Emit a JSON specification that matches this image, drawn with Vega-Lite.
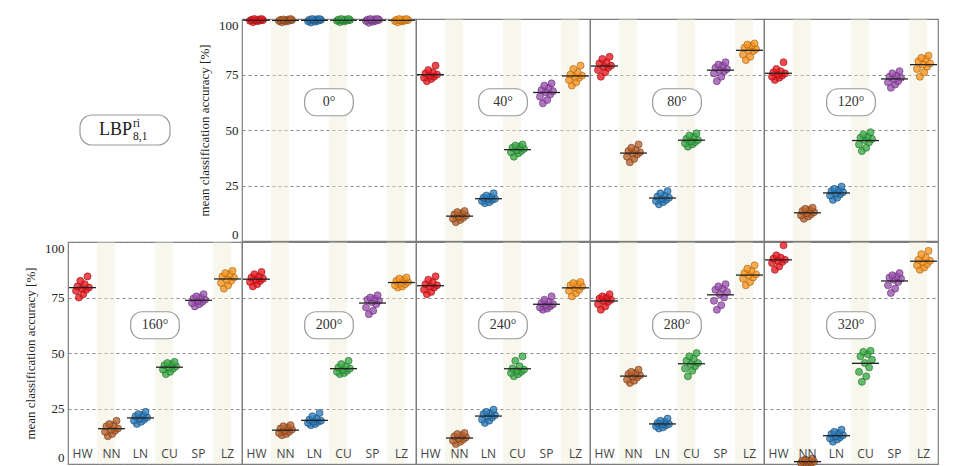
{
  "$schema": "https://vega.github.io/schema/vega-lite/v6.json",
  "padding": {"left": 23, "top": 13, "right": 5, "bottom": 0},
  "background": "white",
  "spacing": -4,
  "config": {
    "view": {"stroke": "#7d7d7d", "strokeWidth": 1.2},
    "axisY": {
      "grid": true, "gridDash": [3, 3], "gridColor": "#8a8a8a", "gridWidth": 1,
      "domain": false, "ticks": false,
      "labelFont": "Liberation Serif", "labelFontSize": 13, "labelColor": "#222",
      "labelFlush": true, "labelPadding": 4,
      "titleFont": "Liberation Serif", "titleFontSize": 13, "titleFontWeight": "normal",
      "titleColor": "#222", "titlePadding": 7
    },
    "axisX": {
      "grid": false, "domain": false, "ticks": false, "labelAngle": 0,
      "labelPadding": -16, "labelFont": "Open Sans", "labelFontSize": 12, "labelColor": "#444"
    }
  },
  "datasets": {
    "stripes": [{"cls": "NN"}, {"cls": "CU"}, {"cls": "LZ"}],
    "panels": [
      {"angle": 0, "label": "0°"}, {"angle": 40, "label": "40°"}, {"angle": 80, "label": "80°"},
      {"angle": 120, "label": "120°"}, {"angle": 160, "label": "160°"}, {"angle": 200, "label": "200°"},
      {"angle": 240, "label": "240°"}, {"angle": 280, "label": "280°"}, {"angle": 320, "label": "320°"}
    ],
    "acc": [
      {"angle":0,"cls":"HW","run":1,"acc":98.6},{"angle":0,"cls":"HW","run":2,"acc":99.0},{"angle":0,"cls":"HW","run":3,"acc":99.2},{"angle":0,"cls":"HW","run":4,"acc":99.3},{"angle":0,"cls":"HW","run":5,"acc":99.4},{"angle":0,"cls":"HW","run":6,"acc":99.5},{"angle":0,"cls":"HW","run":7,"acc":99.6},{"angle":0,"cls":"HW","run":8,"acc":99.8},{"angle":0,"cls":"HW","run":9,"acc":100},{"angle":0,"cls":"HW","run":10,"acc":100},
      {"angle":0,"cls":"NN","run":1,"acc":98.5},{"angle":0,"cls":"NN","run":2,"acc":98.9},{"angle":0,"cls":"NN","run":3,"acc":99.1},{"angle":0,"cls":"NN","run":4,"acc":99.2},{"angle":0,"cls":"NN","run":5,"acc":99.3},{"angle":0,"cls":"NN","run":6,"acc":99.5},{"angle":0,"cls":"NN","run":7,"acc":99.6},{"angle":0,"cls":"NN","run":8,"acc":99.7},{"angle":0,"cls":"NN","run":9,"acc":99.8},{"angle":0,"cls":"NN","run":10,"acc":100},
      {"angle":0,"cls":"LN","run":1,"acc":98.4},{"angle":0,"cls":"LN","run":2,"acc":98.8},{"angle":0,"cls":"LN","run":3,"acc":99.0},{"angle":0,"cls":"LN","run":4,"acc":99.2},{"angle":0,"cls":"LN","run":5,"acc":99.4},{"angle":0,"cls":"LN","run":6,"acc":99.6},{"angle":0,"cls":"LN","run":7,"acc":99.7},{"angle":0,"cls":"LN","run":8,"acc":99.9},{"angle":0,"cls":"LN","run":9,"acc":100},{"angle":0,"cls":"LN","run":10,"acc":100},
      {"angle":0,"cls":"CU","run":1,"acc":98.6},{"angle":0,"cls":"CU","run":2,"acc":98.9},{"angle":0,"cls":"CU","run":3,"acc":99.2},{"angle":0,"cls":"CU","run":4,"acc":99.3},{"angle":0,"cls":"CU","run":5,"acc":99.4},{"angle":0,"cls":"CU","run":6,"acc":99.5},{"angle":0,"cls":"CU","run":7,"acc":99.7},{"angle":0,"cls":"CU","run":8,"acc":99.8},{"angle":0,"cls":"CU","run":9,"acc":100},{"angle":0,"cls":"CU","run":10,"acc":100},
      {"angle":0,"cls":"SP","run":1,"acc":98.3},{"angle":0,"cls":"SP","run":2,"acc":98.8},{"angle":0,"cls":"SP","run":3,"acc":99.1},{"angle":0,"cls":"SP","run":4,"acc":99.2},{"angle":0,"cls":"SP","run":5,"acc":99.4},{"angle":0,"cls":"SP","run":6,"acc":99.6},{"angle":0,"cls":"SP","run":7,"acc":99.7},{"angle":0,"cls":"SP","run":8,"acc":99.9},{"angle":0,"cls":"SP","run":9,"acc":100},{"angle":0,"cls":"SP","run":10,"acc":100},
      {"angle":0,"cls":"LZ","run":1,"acc":98.5},{"angle":0,"cls":"LZ","run":2,"acc":98.9},{"angle":0,"cls":"LZ","run":3,"acc":99.1},{"angle":0,"cls":"LZ","run":4,"acc":99.3},{"angle":0,"cls":"LZ","run":5,"acc":99.4},{"angle":0,"cls":"LZ","run":6,"acc":99.5},{"angle":0,"cls":"LZ","run":7,"acc":99.6},{"angle":0,"cls":"LZ","run":8,"acc":99.8},{"angle":0,"cls":"LZ","run":9,"acc":100},{"angle":0,"cls":"LZ","run":10,"acc":100},

      {"angle":40,"cls":"HW","run":1,"acc":72},{"angle":40,"cls":"HW","run":2,"acc":73},{"angle":40,"cls":"HW","run":3,"acc":73.5},{"angle":40,"cls":"HW","run":4,"acc":74},{"angle":40,"cls":"HW","run":5,"acc":74.5},{"angle":40,"cls":"HW","run":6,"acc":75},{"angle":40,"cls":"HW","run":7,"acc":75.5},{"angle":40,"cls":"HW","run":8,"acc":76},{"angle":40,"cls":"HW","run":9,"acc":77},{"angle":40,"cls":"HW","run":10,"acc":79},
      {"angle":40,"cls":"NN","run":1,"acc":8.5},{"angle":40,"cls":"NN","run":2,"acc":9.5},{"angle":40,"cls":"NN","run":3,"acc":10},{"angle":40,"cls":"NN","run":4,"acc":10.5},{"angle":40,"cls":"NN","run":5,"acc":11},{"angle":40,"cls":"NN","run":6,"acc":11.5},{"angle":40,"cls":"NN","run":7,"acc":12},{"angle":40,"cls":"NN","run":8,"acc":12.5},{"angle":40,"cls":"NN","run":9,"acc":13},{"angle":40,"cls":"NN","run":10,"acc":13.5},
      {"angle":40,"cls":"LN","run":1,"acc":17},{"angle":40,"cls":"LN","run":2,"acc":17.5},{"angle":40,"cls":"LN","run":3,"acc":18},{"angle":40,"cls":"LN","run":4,"acc":18.5},{"angle":40,"cls":"LN","run":5,"acc":19},{"angle":40,"cls":"LN","run":6,"acc":19},{"angle":40,"cls":"LN","run":7,"acc":19.5},{"angle":40,"cls":"LN","run":8,"acc":20},{"angle":40,"cls":"LN","run":9,"acc":20.5},{"angle":40,"cls":"LN","run":10,"acc":21.5},
      {"angle":40,"cls":"CU","run":1,"acc":38},{"angle":40,"cls":"CU","run":2,"acc":39.5},{"angle":40,"cls":"CU","run":3,"acc":40},{"angle":40,"cls":"CU","run":4,"acc":40.5},{"angle":40,"cls":"CU","run":5,"acc":41},{"angle":40,"cls":"CU","run":6,"acc":41.5},{"angle":40,"cls":"CU","run":7,"acc":42},{"angle":40,"cls":"CU","run":8,"acc":42.5},{"angle":40,"cls":"CU","run":9,"acc":43},{"angle":40,"cls":"CU","run":10,"acc":43.5},
      {"angle":40,"cls":"SP","run":1,"acc":62},{"angle":40,"cls":"SP","run":2,"acc":63.5},{"angle":40,"cls":"SP","run":3,"acc":65},{"angle":40,"cls":"SP","run":4,"acc":66},{"angle":40,"cls":"SP","run":5,"acc":67},{"angle":40,"cls":"SP","run":6,"acc":67.5},{"angle":40,"cls":"SP","run":7,"acc":68},{"angle":40,"cls":"SP","run":8,"acc":69},{"angle":40,"cls":"SP","run":9,"acc":70},{"angle":40,"cls":"SP","run":10,"acc":71},
      {"angle":40,"cls":"LZ","run":1,"acc":70},{"angle":40,"cls":"LZ","run":2,"acc":71.5},{"angle":40,"cls":"LZ","run":3,"acc":72.5},{"angle":40,"cls":"LZ","run":4,"acc":73.5},{"angle":40,"cls":"LZ","run":5,"acc":74},{"angle":40,"cls":"LZ","run":6,"acc":74.5},{"angle":40,"cls":"LZ","run":7,"acc":75},{"angle":40,"cls":"LZ","run":8,"acc":76},{"angle":40,"cls":"LZ","run":9,"acc":77.5},{"angle":40,"cls":"LZ","run":10,"acc":79},

      {"angle":80,"cls":"HW","run":1,"acc":74},{"angle":80,"cls":"HW","run":2,"acc":76},{"angle":80,"cls":"HW","run":3,"acc":77},{"angle":80,"cls":"HW","run":4,"acc":78},{"angle":80,"cls":"HW","run":5,"acc":78.5},{"angle":80,"cls":"HW","run":6,"acc":79},{"angle":80,"cls":"HW","run":7,"acc":80},{"angle":80,"cls":"HW","run":8,"acc":80.5},{"angle":80,"cls":"HW","run":9,"acc":82},{"angle":80,"cls":"HW","run":10,"acc":83},
      {"angle":80,"cls":"NN","run":1,"acc":35.5},{"angle":80,"cls":"NN","run":2,"acc":37},{"angle":80,"cls":"NN","run":3,"acc":38},{"angle":80,"cls":"NN","run":4,"acc":39},{"angle":80,"cls":"NN","run":5,"acc":39.5},{"angle":80,"cls":"NN","run":6,"acc":40},{"angle":80,"cls":"NN","run":7,"acc":40.5},{"angle":80,"cls":"NN","run":8,"acc":41},{"angle":80,"cls":"NN","run":9,"acc":42},{"angle":80,"cls":"NN","run":10,"acc":43.5},
      {"angle":80,"cls":"LN","run":1,"acc":16.5},{"angle":80,"cls":"LN","run":2,"acc":17.5},{"angle":80,"cls":"LN","run":3,"acc":18},{"angle":80,"cls":"LN","run":4,"acc":18.5},{"angle":80,"cls":"LN","run":5,"acc":19},{"angle":80,"cls":"LN","run":6,"acc":19.5},{"angle":80,"cls":"LN","run":7,"acc":20},{"angle":80,"cls":"LN","run":8,"acc":20.5},{"angle":80,"cls":"LN","run":9,"acc":21.5},{"angle":80,"cls":"LN","run":10,"acc":22.5},
      {"angle":80,"cls":"CU","run":1,"acc":42.5},{"angle":80,"cls":"CU","run":2,"acc":43.5},{"angle":80,"cls":"CU","run":3,"acc":44},{"angle":80,"cls":"CU","run":4,"acc":44.5},{"angle":80,"cls":"CU","run":5,"acc":45},{"angle":80,"cls":"CU","run":6,"acc":45.5},{"angle":80,"cls":"CU","run":7,"acc":46},{"angle":80,"cls":"CU","run":8,"acc":47},{"angle":80,"cls":"CU","run":9,"acc":47.5},{"angle":80,"cls":"CU","run":10,"acc":48.5},
      {"angle":80,"cls":"SP","run":1,"acc":72},{"angle":80,"cls":"SP","run":2,"acc":74},{"angle":80,"cls":"SP","run":3,"acc":75.5},{"angle":80,"cls":"SP","run":4,"acc":76.5},{"angle":80,"cls":"SP","run":5,"acc":77},{"angle":80,"cls":"SP","run":6,"acc":77.5},{"angle":80,"cls":"SP","run":7,"acc":78},{"angle":80,"cls":"SP","run":8,"acc":79},{"angle":80,"cls":"SP","run":9,"acc":79.5},{"angle":80,"cls":"SP","run":10,"acc":80.5},
      {"angle":80,"cls":"LZ","run":1,"acc":81.5},{"angle":80,"cls":"LZ","run":2,"acc":83},{"angle":80,"cls":"LZ","run":3,"acc":84},{"angle":80,"cls":"LZ","run":4,"acc":85.5},{"angle":80,"cls":"LZ","run":5,"acc":86},{"angle":80,"cls":"LZ","run":6,"acc":86.5},{"angle":80,"cls":"LZ","run":7,"acc":87},{"angle":80,"cls":"LZ","run":8,"acc":88},{"angle":80,"cls":"LZ","run":9,"acc":88.5},{"angle":80,"cls":"LZ","run":10,"acc":89},

      {"angle":120,"cls":"HW","run":1,"acc":72.5},{"angle":120,"cls":"HW","run":2,"acc":73.5},{"angle":120,"cls":"HW","run":3,"acc":74},{"angle":120,"cls":"HW","run":4,"acc":74.5},{"angle":120,"cls":"HW","run":5,"acc":75},{"angle":120,"cls":"HW","run":6,"acc":75.5},{"angle":120,"cls":"HW","run":7,"acc":76},{"angle":120,"cls":"HW","run":8,"acc":76.5},{"angle":120,"cls":"HW","run":9,"acc":77.5},{"angle":120,"cls":"HW","run":10,"acc":80.5},
      {"angle":120,"cls":"NN","run":1,"acc":10},{"angle":120,"cls":"NN","run":2,"acc":11},{"angle":120,"cls":"NN","run":3,"acc":11.5},{"angle":120,"cls":"NN","run":4,"acc":12},{"angle":120,"cls":"NN","run":5,"acc":12.5},{"angle":120,"cls":"NN","run":6,"acc":13},{"angle":120,"cls":"NN","run":7,"acc":13.5},{"angle":120,"cls":"NN","run":8,"acc":14},{"angle":120,"cls":"NN","run":9,"acc":14.5},{"angle":120,"cls":"NN","run":10,"acc":15},
      {"angle":120,"cls":"LN","run":1,"acc":18.5},{"angle":120,"cls":"LN","run":2,"acc":19.5},{"angle":120,"cls":"LN","run":3,"acc":20.5},{"angle":120,"cls":"LN","run":4,"acc":21},{"angle":120,"cls":"LN","run":5,"acc":21.5},{"angle":120,"cls":"LN","run":6,"acc":22},{"angle":120,"cls":"LN","run":7,"acc":22.5},{"angle":120,"cls":"LN","run":8,"acc":23},{"angle":120,"cls":"LN","run":9,"acc":23.5},{"angle":120,"cls":"LN","run":10,"acc":24.5},
      {"angle":120,"cls":"CU","run":1,"acc":40.5},{"angle":120,"cls":"CU","run":2,"acc":42},{"angle":120,"cls":"CU","run":3,"acc":43.5},{"angle":120,"cls":"CU","run":4,"acc":44.5},{"angle":120,"cls":"CU","run":5,"acc":45.5},{"angle":120,"cls":"CU","run":6,"acc":46},{"angle":120,"cls":"CU","run":7,"acc":46.5},{"angle":120,"cls":"CU","run":8,"acc":47},{"angle":120,"cls":"CU","run":9,"acc":48},{"angle":120,"cls":"CU","run":10,"acc":49},
      {"angle":120,"cls":"SP","run":1,"acc":69},{"angle":120,"cls":"SP","run":2,"acc":70.5},{"angle":120,"cls":"SP","run":3,"acc":71.5},{"angle":120,"cls":"SP","run":4,"acc":72},{"angle":120,"cls":"SP","run":5,"acc":73},{"angle":120,"cls":"SP","run":6,"acc":73.5},{"angle":120,"cls":"SP","run":7,"acc":74},{"angle":120,"cls":"SP","run":8,"acc":74.5},{"angle":120,"cls":"SP","run":9,"acc":75.5},{"angle":120,"cls":"SP","run":10,"acc":76.5},
      {"angle":120,"cls":"LZ","run":1,"acc":74},{"angle":120,"cls":"LZ","run":2,"acc":76},{"angle":120,"cls":"LZ","run":3,"acc":77.5},{"angle":120,"cls":"LZ","run":4,"acc":78.5},{"angle":120,"cls":"LZ","run":5,"acc":79.5},{"angle":120,"cls":"LZ","run":6,"acc":80},{"angle":120,"cls":"LZ","run":7,"acc":81},{"angle":120,"cls":"LZ","run":8,"acc":82},{"angle":120,"cls":"LZ","run":9,"acc":82.5},{"angle":120,"cls":"LZ","run":10,"acc":83.5},

      {"angle":160,"cls":"HW","run":1,"acc":75},{"angle":160,"cls":"HW","run":2,"acc":76.5},{"angle":160,"cls":"HW","run":3,"acc":78},{"angle":160,"cls":"HW","run":4,"acc":78.5},{"angle":160,"cls":"HW","run":5,"acc":79},{"angle":160,"cls":"HW","run":6,"acc":79.5},{"angle":160,"cls":"HW","run":7,"acc":80},{"angle":160,"cls":"HW","run":8,"acc":81},{"angle":160,"cls":"HW","run":9,"acc":82.5},{"angle":160,"cls":"HW","run":10,"acc":84.5},
      {"angle":160,"cls":"NN","run":1,"acc":12.5},{"angle":160,"cls":"NN","run":2,"acc":13.5},{"angle":160,"cls":"NN","run":3,"acc":14.5},{"angle":160,"cls":"NN","run":4,"acc":15},{"angle":160,"cls":"NN","run":5,"acc":15.5},{"angle":160,"cls":"NN","run":6,"acc":16},{"angle":160,"cls":"NN","run":7,"acc":17},{"angle":160,"cls":"NN","run":8,"acc":17.5},{"angle":160,"cls":"NN","run":9,"acc":18},{"angle":160,"cls":"NN","run":10,"acc":19.5},
      {"angle":160,"cls":"LN","run":1,"acc":18},{"angle":160,"cls":"LN","run":2,"acc":19},{"angle":160,"cls":"LN","run":3,"acc":19.5},{"angle":160,"cls":"LN","run":4,"acc":20},{"angle":160,"cls":"LN","run":5,"acc":20.5},{"angle":160,"cls":"LN","run":6,"acc":21},{"angle":160,"cls":"LN","run":7,"acc":21.5},{"angle":160,"cls":"LN","run":8,"acc":22},{"angle":160,"cls":"LN","run":9,"acc":22.5},{"angle":160,"cls":"LN","run":10,"acc":23.5},
      {"angle":160,"cls":"CU","run":1,"acc":40.5},{"angle":160,"cls":"CU","run":2,"acc":41.5},{"angle":160,"cls":"CU","run":3,"acc":42.5},{"angle":160,"cls":"CU","run":4,"acc":43},{"angle":160,"cls":"CU","run":5,"acc":43.5},{"angle":160,"cls":"CU","run":6,"acc":44},{"angle":160,"cls":"CU","run":7,"acc":44.5},{"angle":160,"cls":"CU","run":8,"acc":45},{"angle":160,"cls":"CU","run":9,"acc":45.5},{"angle":160,"cls":"CU","run":10,"acc":46},
      {"angle":160,"cls":"SP","run":1,"acc":71},{"angle":160,"cls":"SP","run":2,"acc":72},{"angle":160,"cls":"SP","run":3,"acc":72.5},{"angle":160,"cls":"SP","run":4,"acc":73},{"angle":160,"cls":"SP","run":5,"acc":73.5},{"angle":160,"cls":"SP","run":6,"acc":74},{"angle":160,"cls":"SP","run":7,"acc":74.5},{"angle":160,"cls":"SP","run":8,"acc":75},{"angle":160,"cls":"SP","run":9,"acc":75.5},{"angle":160,"cls":"SP","run":10,"acc":76.5},
      {"angle":160,"cls":"LZ","run":1,"acc":79},{"angle":160,"cls":"LZ","run":2,"acc":80.5},{"angle":160,"cls":"LZ","run":3,"acc":81.5},{"angle":160,"cls":"LZ","run":4,"acc":82.5},{"angle":160,"cls":"LZ","run":5,"acc":83},{"angle":160,"cls":"LZ","run":6,"acc":84},{"angle":160,"cls":"LZ","run":7,"acc":84.5},{"angle":160,"cls":"LZ","run":8,"acc":85.5},{"angle":160,"cls":"LZ","run":9,"acc":86},{"angle":160,"cls":"LZ","run":10,"acc":87},

      {"angle":200,"cls":"HW","run":1,"acc":80},{"angle":200,"cls":"HW","run":2,"acc":81},{"angle":200,"cls":"HW","run":3,"acc":82},{"angle":200,"cls":"HW","run":4,"acc":82.5},{"angle":200,"cls":"HW","run":5,"acc":83},{"angle":200,"cls":"HW","run":6,"acc":83.5},{"angle":200,"cls":"HW","run":7,"acc":84},{"angle":200,"cls":"HW","run":8,"acc":84.5},{"angle":200,"cls":"HW","run":9,"acc":85.5},{"angle":200,"cls":"HW","run":10,"acc":86.5},
      {"angle":200,"cls":"NN","run":1,"acc":13},{"angle":200,"cls":"NN","run":2,"acc":13.5},{"angle":200,"cls":"NN","run":3,"acc":14},{"angle":200,"cls":"NN","run":4,"acc":14.5},{"angle":200,"cls":"NN","run":5,"acc":15},{"angle":200,"cls":"NN","run":6,"acc":15.5},{"angle":200,"cls":"NN","run":7,"acc":16},{"angle":200,"cls":"NN","run":8,"acc":16.5},{"angle":200,"cls":"NN","run":9,"acc":17},{"angle":200,"cls":"NN","run":10,"acc":17.5},
      {"angle":200,"cls":"LN","run":1,"acc":17.5},{"angle":200,"cls":"LN","run":2,"acc":18},{"angle":200,"cls":"LN","run":3,"acc":18.5},{"angle":200,"cls":"LN","run":4,"acc":19},{"angle":200,"cls":"LN","run":5,"acc":19},{"angle":200,"cls":"LN","run":6,"acc":19.5},{"angle":200,"cls":"LN","run":7,"acc":20},{"angle":200,"cls":"LN","run":8,"acc":20.5},{"angle":200,"cls":"LN","run":9,"acc":21.5},{"angle":200,"cls":"LN","run":10,"acc":23},
      {"angle":200,"cls":"CU","run":1,"acc":40.5},{"angle":200,"cls":"CU","run":2,"acc":41},{"angle":200,"cls":"CU","run":3,"acc":41.5},{"angle":200,"cls":"CU","run":4,"acc":42},{"angle":200,"cls":"CU","run":5,"acc":42.5},{"angle":200,"cls":"CU","run":6,"acc":43},{"angle":200,"cls":"CU","run":7,"acc":43.5},{"angle":200,"cls":"CU","run":8,"acc":44},{"angle":200,"cls":"CU","run":9,"acc":45},{"angle":200,"cls":"CU","run":10,"acc":46.5},
      {"angle":200,"cls":"SP","run":1,"acc":67.5},{"angle":200,"cls":"SP","run":2,"acc":69},{"angle":200,"cls":"SP","run":3,"acc":70.5},{"angle":200,"cls":"SP","run":4,"acc":72},{"angle":200,"cls":"SP","run":5,"acc":73},{"angle":200,"cls":"SP","run":6,"acc":73.5},{"angle":200,"cls":"SP","run":7,"acc":74},{"angle":200,"cls":"SP","run":8,"acc":74.5},{"angle":200,"cls":"SP","run":9,"acc":75},{"angle":200,"cls":"SP","run":10,"acc":76},
      {"angle":200,"cls":"LZ","run":1,"acc":79.5},{"angle":200,"cls":"LZ","run":2,"acc":80},{"angle":200,"cls":"LZ","run":3,"acc":80.5},{"angle":200,"cls":"LZ","run":4,"acc":81},{"angle":200,"cls":"LZ","run":5,"acc":81.5},{"angle":200,"cls":"LZ","run":6,"acc":82},{"angle":200,"cls":"LZ","run":7,"acc":82.5},{"angle":200,"cls":"LZ","run":8,"acc":83},{"angle":200,"cls":"LZ","run":9,"acc":83.5},{"angle":200,"cls":"LZ","run":10,"acc":84},

      {"angle":240,"cls":"HW","run":1,"acc":76.5},{"angle":240,"cls":"HW","run":2,"acc":77.5},{"angle":240,"cls":"HW","run":3,"acc":78.5},{"angle":240,"cls":"HW","run":4,"acc":79.5},{"angle":240,"cls":"HW","run":5,"acc":80},{"angle":240,"cls":"HW","run":6,"acc":80.5},{"angle":240,"cls":"HW","run":7,"acc":81},{"angle":240,"cls":"HW","run":8,"acc":82},{"angle":240,"cls":"HW","run":9,"acc":83},{"angle":240,"cls":"HW","run":10,"acc":84.5},
      {"angle":240,"cls":"NN","run":1,"acc":9},{"angle":240,"cls":"NN","run":2,"acc":10},{"angle":240,"cls":"NN","run":3,"acc":10.5},{"angle":240,"cls":"NN","run":4,"acc":11},{"angle":240,"cls":"NN","run":5,"acc":11.5},{"angle":240,"cls":"NN","run":6,"acc":12},{"angle":240,"cls":"NN","run":7,"acc":12.5},{"angle":240,"cls":"NN","run":8,"acc":13},{"angle":240,"cls":"NN","run":9,"acc":13.5},{"angle":240,"cls":"NN","run":10,"acc":14},
      {"angle":240,"cls":"LN","run":1,"acc":18.5},{"angle":240,"cls":"LN","run":2,"acc":19.5},{"angle":240,"cls":"LN","run":3,"acc":20},{"angle":240,"cls":"LN","run":4,"acc":21},{"angle":240,"cls":"LN","run":5,"acc":21.5},{"angle":240,"cls":"LN","run":6,"acc":22},{"angle":240,"cls":"LN","run":7,"acc":22.5},{"angle":240,"cls":"LN","run":8,"acc":23},{"angle":240,"cls":"LN","run":9,"acc":23.5},{"angle":240,"cls":"LN","run":10,"acc":24.5},
      {"angle":240,"cls":"CU","run":1,"acc":39.5},{"angle":240,"cls":"CU","run":2,"acc":40.5},{"angle":240,"cls":"CU","run":3,"acc":41},{"angle":240,"cls":"CU","run":4,"acc":41.5},{"angle":240,"cls":"CU","run":5,"acc":42},{"angle":240,"cls":"CU","run":6,"acc":42.5},{"angle":240,"cls":"CU","run":7,"acc":43},{"angle":240,"cls":"CU","run":8,"acc":44},{"angle":240,"cls":"CU","run":9,"acc":46.5},{"angle":240,"cls":"CU","run":10,"acc":48.5},
      {"angle":240,"cls":"SP","run":1,"acc":69.5},{"angle":240,"cls":"SP","run":2,"acc":70},{"angle":240,"cls":"SP","run":3,"acc":70.5},{"angle":240,"cls":"SP","run":4,"acc":71},{"angle":240,"cls":"SP","run":5,"acc":71.5},{"angle":240,"cls":"SP","run":6,"acc":72},{"angle":240,"cls":"SP","run":7,"acc":72.5},{"angle":240,"cls":"SP","run":8,"acc":73},{"angle":240,"cls":"SP","run":9,"acc":74},{"angle":240,"cls":"SP","run":10,"acc":75.5},
      {"angle":240,"cls":"LZ","run":1,"acc":75.5},{"angle":240,"cls":"LZ","run":2,"acc":77},{"angle":240,"cls":"LZ","run":3,"acc":78},{"angle":240,"cls":"LZ","run":4,"acc":78.5},{"angle":240,"cls":"LZ","run":5,"acc":79.5},{"angle":240,"cls":"LZ","run":6,"acc":80},{"angle":240,"cls":"LZ","run":7,"acc":80.5},{"angle":240,"cls":"LZ","run":8,"acc":81},{"angle":240,"cls":"LZ","run":9,"acc":81.5},{"angle":240,"cls":"LZ","run":10,"acc":82},

      {"angle":280,"cls":"HW","run":1,"acc":69.5},{"angle":280,"cls":"HW","run":2,"acc":71},{"angle":280,"cls":"HW","run":3,"acc":72},{"angle":280,"cls":"HW","run":4,"acc":73},{"angle":280,"cls":"HW","run":5,"acc":73.5},{"angle":280,"cls":"HW","run":6,"acc":74},{"angle":280,"cls":"HW","run":7,"acc":74.5},{"angle":280,"cls":"HW","run":8,"acc":75},{"angle":280,"cls":"HW","run":9,"acc":75.5},{"angle":280,"cls":"HW","run":10,"acc":76.5},
      {"angle":280,"cls":"NN","run":1,"acc":36.5},{"angle":280,"cls":"NN","run":2,"acc":37.5},{"angle":280,"cls":"NN","run":3,"acc":38},{"angle":280,"cls":"NN","run":4,"acc":39},{"angle":280,"cls":"NN","run":5,"acc":39.5},{"angle":280,"cls":"NN","run":6,"acc":40},{"angle":280,"cls":"NN","run":7,"acc":40.5},{"angle":280,"cls":"NN","run":8,"acc":41},{"angle":280,"cls":"NN","run":9,"acc":41.5},{"angle":280,"cls":"NN","run":10,"acc":42.5},
      {"angle":280,"cls":"LN","run":1,"acc":16},{"angle":280,"cls":"LN","run":2,"acc":16.5},{"angle":280,"cls":"LN","run":3,"acc":17},{"angle":280,"cls":"LN","run":4,"acc":17.5},{"angle":280,"cls":"LN","run":5,"acc":18},{"angle":280,"cls":"LN","run":6,"acc":18},{"angle":280,"cls":"LN","run":7,"acc":18.5},{"angle":280,"cls":"LN","run":8,"acc":19},{"angle":280,"cls":"LN","run":9,"acc":19.5},{"angle":280,"cls":"LN","run":10,"acc":20.5},
      {"angle":280,"cls":"CU","run":1,"acc":39.5},{"angle":280,"cls":"CU","run":2,"acc":42},{"angle":280,"cls":"CU","run":3,"acc":43},{"angle":280,"cls":"CU","run":4,"acc":44},{"angle":280,"cls":"CU","run":5,"acc":45},{"angle":280,"cls":"CU","run":6,"acc":45.5},{"angle":280,"cls":"CU","run":7,"acc":46.5},{"angle":280,"cls":"CU","run":8,"acc":47.5},{"angle":280,"cls":"CU","run":9,"acc":48.5},{"angle":280,"cls":"CU","run":10,"acc":50},
      {"angle":280,"cls":"SP","run":1,"acc":69.5},{"angle":280,"cls":"SP","run":2,"acc":71.5},{"angle":280,"cls":"SP","run":3,"acc":73.5},{"angle":280,"cls":"SP","run":4,"acc":75},{"angle":280,"cls":"SP","run":5,"acc":76.5},{"angle":280,"cls":"SP","run":6,"acc":77.5},{"angle":280,"cls":"SP","run":7,"acc":78.5},{"angle":280,"cls":"SP","run":8,"acc":79},{"angle":280,"cls":"SP","run":9,"acc":80},{"angle":280,"cls":"SP","run":10,"acc":81},
      {"angle":280,"cls":"LZ","run":1,"acc":80.5},{"angle":280,"cls":"LZ","run":2,"acc":82},{"angle":280,"cls":"LZ","run":3,"acc":83.5},{"angle":280,"cls":"LZ","run":4,"acc":84},{"angle":280,"cls":"LZ","run":5,"acc":85},{"angle":280,"cls":"LZ","run":6,"acc":85.5},{"angle":280,"cls":"LZ","run":7,"acc":86},{"angle":280,"cls":"LZ","run":8,"acc":87},{"angle":280,"cls":"LZ","run":9,"acc":88},{"angle":280,"cls":"LZ","run":10,"acc":89.5},

      {"angle":320,"cls":"HW","run":1,"acc":87.5},{"angle":320,"cls":"HW","run":2,"acc":89},{"angle":320,"cls":"HW","run":3,"acc":90.5},{"angle":320,"cls":"HW","run":4,"acc":91},{"angle":320,"cls":"HW","run":5,"acc":91.5},{"angle":320,"cls":"HW","run":6,"acc":92},{"angle":320,"cls":"HW","run":7,"acc":92.5},{"angle":320,"cls":"HW","run":8,"acc":93},{"angle":320,"cls":"HW","run":9,"acc":94},{"angle":320,"cls":"HW","run":10,"acc":98.5},
      {"angle":320,"cls":"NN","run":1,"acc":0},{"angle":320,"cls":"NN","run":2,"acc":0},{"angle":320,"cls":"NN","run":3,"acc":0.5},{"angle":320,"cls":"NN","run":4,"acc":0.5},{"angle":320,"cls":"NN","run":5,"acc":1},{"angle":320,"cls":"NN","run":6,"acc":1},{"angle":320,"cls":"NN","run":7,"acc":1.5},{"angle":320,"cls":"NN","run":8,"acc":1.5},{"angle":320,"cls":"NN","run":9,"acc":2},{"angle":320,"cls":"NN","run":10,"acc":2.5},
      {"angle":320,"cls":"LN","run":1,"acc":10},{"angle":320,"cls":"LN","run":2,"acc":11},{"angle":320,"cls":"LN","run":3,"acc":11.5},{"angle":320,"cls":"LN","run":4,"acc":12},{"angle":320,"cls":"LN","run":5,"acc":12.5},{"angle":320,"cls":"LN","run":6,"acc":13},{"angle":320,"cls":"LN","run":7,"acc":13.5},{"angle":320,"cls":"LN","run":8,"acc":14},{"angle":320,"cls":"LN","run":9,"acc":14.5},{"angle":320,"cls":"LN","run":10,"acc":15.5},
      {"angle":320,"cls":"CU","run":1,"acc":37},{"angle":320,"cls":"CU","run":2,"acc":39.5},{"angle":320,"cls":"CU","run":3,"acc":41.5},{"angle":320,"cls":"CU","run":4,"acc":43.5},{"angle":320,"cls":"CU","run":5,"acc":45.5},{"angle":320,"cls":"CU","run":6,"acc":47},{"angle":320,"cls":"CU","run":7,"acc":48.5},{"angle":320,"cls":"CU","run":8,"acc":49.5},{"angle":320,"cls":"CU","run":9,"acc":50.5},{"angle":320,"cls":"CU","run":10,"acc":51},
      {"angle":320,"cls":"SP","run":1,"acc":77},{"angle":320,"cls":"SP","run":2,"acc":79},{"angle":320,"cls":"SP","run":3,"acc":80.5},{"angle":320,"cls":"SP","run":4,"acc":82},{"angle":320,"cls":"SP","run":5,"acc":83},{"angle":320,"cls":"SP","run":6,"acc":83.5},{"angle":320,"cls":"SP","run":7,"acc":84},{"angle":320,"cls":"SP","run":8,"acc":84.5},{"angle":320,"cls":"SP","run":9,"acc":85},{"angle":320,"cls":"SP","run":10,"acc":86},
      {"angle":320,"cls":"LZ","run":1,"acc":87.5},{"angle":320,"cls":"LZ","run":2,"acc":88.5},{"angle":320,"cls":"LZ","run":3,"acc":89.5},{"angle":320,"cls":"LZ","run":4,"acc":90},{"angle":320,"cls":"LZ","run":5,"acc":91},{"angle":320,"cls":"LZ","run":6,"acc":91.5},{"angle":320,"cls":"LZ","run":7,"acc":92},{"angle":320,"cls":"LZ","run":8,"acc":93},{"angle":320,"cls":"LZ","run":9,"acc":94.5},{"angle":320,"cls":"LZ","run":10,"acc":96}
    ]
  },
  "vconcat": [
    {
      "spacing": 60,
      "bounds": "flush",
      "hconcat": [
        {
          "width": 114, "height": 222,
          "view": {"stroke": null},
          "data": {"values": [{"main": "LBP", "sup": "ri", "sub": "8,1"}]},
          "layer": [
            {"mark": {"type": "point", "shape": "M -2.2 -1 L 2.2 -1 C 2.642 -1 3 -0.642 3 -0.2 L 3 0.2 C 3 0.642 2.642 1 2.2 1 L -2.2 1 C -2.642 1 -3 0.642 -3 0.2 L -3 -0.2 C -3 -0.642 -2.642 -1 -2.2 -1 Z", "size": 900, "filled": true, "fill": "#ffffff", "stroke": "#9a9a9a", "strokeWidth": 1.2, "opacity": 1}, "encoding": {}},
            {"mark": {"type": "text", "font": "Liberation Serif", "fontSize": 18, "align": "right", "baseline": "middle", "dx": 7, "color": "#222"}, "encoding": {"text": {"field": "main"}}},
            {"mark": {"type": "text", "font": "Liberation Serif", "fontSize": 11.5, "align": "left", "baseline": "middle", "dx": 8, "dy": -6, "color": "#222"}, "encoding": {"text": {"field": "sup"}}},
            {"mark": {"type": "text", "font": "Liberation Serif", "fontSize": 11.5, "align": "left", "baseline": "middle", "dx": 8, "dy": 7, "color": "#222"}, "encoding": {"text": {"field": "sub"}}}
          ]
        },
        {
          "spacing": 0,
          "bounds": "flush",
          "hconcat": [
            {
              "width": 174, "height": 222,
              "layer": [
                {"data": {"name": "stripes"}, "mark": {"type": "rect", "fill": "#ebebd2", "opacity": 0.4},
                 "encoding": {"x": {"field": "cls", "type": "nominal", "scale": {"domain": ["HW","NN","LN","CU","SP","LZ"], "paddingInner": 0, "paddingOuter": 0}, "axis": null},
                              "y": {"datum": 0, "type": "quantitative", "scale": {"domain": [0, 100]}}, "y2": {"datum": 100}}},
                {"data": {"name": "acc"}, "transform": [{"filter": "datum.angle == 0"}],
                 "mark": {"type": "circle", "size": 50, "fillOpacity": 0.78, "strokeWidth": 0.7, "strokeOpacity": 0.85},
                 "encoding": {
                   "x": {"field": "cls", "type": "nominal", "axis": null},
                   "xOffset": {"field": "run", "type": "nominal", "scale": {"type": "point", "padding": 0, "domain": [3,7,1,9,5,2,8,4,10,6], "range": [8, 21]}},
                   "y": {"field": "acc", "type": "quantitative", "axis": {"values": [0, 25, 50, 75, 100], "title": "mean classification accuracy [%]"}},
                   "color": {"field": "cls", "type": "nominal", "scale": {"domain": ["HW","NN","LN","CU","SP","LZ"], "range": ["#e8171d","#b8622c","#2b7bba","#3aaa46","#9b4fb0","#f7941d"]}, "legend": null},
                   "stroke": {"field": "cls", "type": "nominal", "scale": {"domain": ["HW","NN","LN","CU","SP","LZ"], "range": ["#9a0e12","#6e3818","#174a73","#1f6a28","#5e2e6c","#a45f0e"]}, "legend": null}
                 }},
                {"data": {"name": "acc"}, "transform": [{"filter": "datum.angle == 0"}],
                 "mark": {"type": "tick", "size": 27, "thickness": 1.3, "color": "#222", "opacity": 1},
                 "encoding": {"x": {"field": "cls", "type": "nominal", "axis": null}, "y": {"field": "acc", "aggregate": "mean", "type": "quantitative"}}},
                {"data": {"name": "panels"}, "transform": [{"filter": "datum.angle == 0"}],
                 "mark": {"type": "point", "shape": "M -0.95 -1 L 0.95 -1 C 1.419 -1 1.8 -0.619 1.8 -0.15 L 1.8 0.15 C 1.8 0.619 1.419 1 0.95 1 L -0.95 1 C -1.419 1 -1.8 0.619 -1.8 0.15 L -1.8 -0.15 C -1.8 -0.619 -1.419 -1 -0.95 -1 Z", "size": 729, "filled": true, "fill": "#ffffff", "stroke": "#9a9a9a", "strokeWidth": 1.2, "opacity": 1},
                 "encoding": {"y": {"datum": 62.5, "type": "quantitative"}}},
                {"data": {"name": "panels"}, "transform": [{"filter": "datum.angle == 0"}],
                 "mark": {"type": "text", "font": "Liberation Serif", "fontSize": 14, "color": "#333", "baseline": "middle"},
                 "encoding": {"y": {"datum": 62.5, "type": "quantitative"}, "text": {"field": "label"}}}
              ]
            },
            {
              "width": 174, "height": 222,
              "layer": [
                {"data": {"name": "stripes"}, "mark": {"type": "rect", "fill": "#ebebd2", "opacity": 0.4},
                 "encoding": {"x": {"field": "cls", "type": "nominal", "scale": {"domain": ["HW","NN","LN","CU","SP","LZ"], "paddingInner": 0, "paddingOuter": 0}, "axis": null},
                              "y": {"datum": 0, "type": "quantitative", "scale": {"domain": [0, 100]}}, "y2": {"datum": 100}}},
                {"data": {"name": "acc"}, "transform": [{"filter": "datum.angle == 40"}],
                 "mark": {"type": "circle", "size": 50, "fillOpacity": 0.78, "strokeWidth": 0.7, "strokeOpacity": 0.85},
                 "encoding": {
                   "x": {"field": "cls", "type": "nominal", "axis": null},
                   "xOffset": {"field": "run", "type": "nominal", "scale": {"type": "point", "padding": 0, "domain": [3,7,1,9,5,2,8,4,10,6], "range": [8, 21]}},
                   "y": {"field": "acc", "type": "quantitative", "axis": {"values": [25, 50, 75], "labels": false, "title": null}},
                   "color": {"field": "cls", "type": "nominal", "scale": {"domain": ["HW","NN","LN","CU","SP","LZ"], "range": ["#e8171d","#b8622c","#2b7bba","#3aaa46","#9b4fb0","#f7941d"]}, "legend": null},
                   "stroke": {"field": "cls", "type": "nominal", "scale": {"domain": ["HW","NN","LN","CU","SP","LZ"], "range": ["#9a0e12","#6e3818","#174a73","#1f6a28","#5e2e6c","#a45f0e"]}, "legend": null}
                 }},
                {"data": {"name": "acc"}, "transform": [{"filter": "datum.angle == 40"}],
                 "mark": {"type": "tick", "size": 27, "thickness": 1.3, "color": "#222", "opacity": 1},
                 "encoding": {"x": {"field": "cls", "type": "nominal", "axis": null}, "y": {"field": "acc", "aggregate": "mean", "type": "quantitative"}}},
                {"data": {"name": "panels"}, "transform": [{"filter": "datum.angle == 40"}],
                 "mark": {"type": "point", "shape": "M -0.95 -1 L 0.95 -1 C 1.419 -1 1.8 -0.619 1.8 -0.15 L 1.8 0.15 C 1.8 0.619 1.419 1 0.95 1 L -0.95 1 C -1.419 1 -1.8 0.619 -1.8 0.15 L -1.8 -0.15 C -1.8 -0.619 -1.419 -1 -0.95 -1 Z", "size": 729, "filled": true, "fill": "#ffffff", "stroke": "#9a9a9a", "strokeWidth": 1.2, "opacity": 1},
                 "encoding": {"y": {"datum": 62.5, "type": "quantitative"}}},
                {"data": {"name": "panels"}, "transform": [{"filter": "datum.angle == 40"}],
                 "mark": {"type": "text", "font": "Liberation Serif", "fontSize": 14, "color": "#333", "baseline": "middle"},
                 "encoding": {"y": {"datum": 62.5, "type": "quantitative"}, "text": {"field": "label"}}}
              ]
            },
            {
              "width": 174, "height": 222,
              "layer": [
                {"data": {"name": "stripes"}, "mark": {"type": "rect", "fill": "#ebebd2", "opacity": 0.4},
                 "encoding": {"x": {"field": "cls", "type": "nominal", "scale": {"domain": ["HW","NN","LN","CU","SP","LZ"], "paddingInner": 0, "paddingOuter": 0}, "axis": null},
                              "y": {"datum": 0, "type": "quantitative", "scale": {"domain": [0, 100]}}, "y2": {"datum": 100}}},
                {"data": {"name": "acc"}, "transform": [{"filter": "datum.angle == 80"}],
                 "mark": {"type": "circle", "size": 50, "fillOpacity": 0.78, "strokeWidth": 0.7, "strokeOpacity": 0.85},
                 "encoding": {
                   "x": {"field": "cls", "type": "nominal", "axis": null},
                   "xOffset": {"field": "run", "type": "nominal", "scale": {"type": "point", "padding": 0, "domain": [3,7,1,9,5,2,8,4,10,6], "range": [8, 21]}},
                   "y": {"field": "acc", "type": "quantitative", "axis": {"values": [25, 50, 75], "labels": false, "title": null}},
                   "color": {"field": "cls", "type": "nominal", "scale": {"domain": ["HW","NN","LN","CU","SP","LZ"], "range": ["#e8171d","#b8622c","#2b7bba","#3aaa46","#9b4fb0","#f7941d"]}, "legend": null},
                   "stroke": {"field": "cls", "type": "nominal", "scale": {"domain": ["HW","NN","LN","CU","SP","LZ"], "range": ["#9a0e12","#6e3818","#174a73","#1f6a28","#5e2e6c","#a45f0e"]}, "legend": null}
                 }},
                {"data": {"name": "acc"}, "transform": [{"filter": "datum.angle == 80"}],
                 "mark": {"type": "tick", "size": 27, "thickness": 1.3, "color": "#222", "opacity": 1},
                 "encoding": {"x": {"field": "cls", "type": "nominal", "axis": null}, "y": {"field": "acc", "aggregate": "mean", "type": "quantitative"}}},
                {"data": {"name": "panels"}, "transform": [{"filter": "datum.angle == 80"}],
                 "mark": {"type": "point", "shape": "M -0.95 -1 L 0.95 -1 C 1.419 -1 1.8 -0.619 1.8 -0.15 L 1.8 0.15 C 1.8 0.619 1.419 1 0.95 1 L -0.95 1 C -1.419 1 -1.8 0.619 -1.8 0.15 L -1.8 -0.15 C -1.8 -0.619 -1.419 -1 -0.95 -1 Z", "size": 729, "filled": true, "fill": "#ffffff", "stroke": "#9a9a9a", "strokeWidth": 1.2, "opacity": 1},
                 "encoding": {"y": {"datum": 62.5, "type": "quantitative"}}},
                {"data": {"name": "panels"}, "transform": [{"filter": "datum.angle == 80"}],
                 "mark": {"type": "text", "font": "Liberation Serif", "fontSize": 14, "color": "#333", "baseline": "middle"},
                 "encoding": {"y": {"datum": 62.5, "type": "quantitative"}, "text": {"field": "label"}}}
              ]
            },
            {
              "width": 174, "height": 222,
              "layer": [
                {"data": {"name": "stripes"}, "mark": {"type": "rect", "fill": "#ebebd2", "opacity": 0.4},
                 "encoding": {"x": {"field": "cls", "type": "nominal", "scale": {"domain": ["HW","NN","LN","CU","SP","LZ"], "paddingInner": 0, "paddingOuter": 0}, "axis": null},
                              "y": {"datum": 0, "type": "quantitative", "scale": {"domain": [0, 100]}}, "y2": {"datum": 100}}},
                {"data": {"name": "acc"}, "transform": [{"filter": "datum.angle == 120"}],
                 "mark": {"type": "circle", "size": 50, "fillOpacity": 0.78, "strokeWidth": 0.7, "strokeOpacity": 0.85},
                 "encoding": {
                   "x": {"field": "cls", "type": "nominal", "axis": null},
                   "xOffset": {"field": "run", "type": "nominal", "scale": {"type": "point", "padding": 0, "domain": [3,7,1,9,5,2,8,4,10,6], "range": [8, 21]}},
                   "y": {"field": "acc", "type": "quantitative", "axis": {"values": [25, 50, 75], "labels": false, "title": null}},
                   "color": {"field": "cls", "type": "nominal", "scale": {"domain": ["HW","NN","LN","CU","SP","LZ"], "range": ["#e8171d","#b8622c","#2b7bba","#3aaa46","#9b4fb0","#f7941d"]}, "legend": null},
                   "stroke": {"field": "cls", "type": "nominal", "scale": {"domain": ["HW","NN","LN","CU","SP","LZ"], "range": ["#9a0e12","#6e3818","#174a73","#1f6a28","#5e2e6c","#a45f0e"]}, "legend": null}
                 }},
                {"data": {"name": "acc"}, "transform": [{"filter": "datum.angle == 120"}],
                 "mark": {"type": "tick", "size": 27, "thickness": 1.3, "color": "#222", "opacity": 1},
                 "encoding": {"x": {"field": "cls", "type": "nominal", "axis": null}, "y": {"field": "acc", "aggregate": "mean", "type": "quantitative"}}},
                {"data": {"name": "panels"}, "transform": [{"filter": "datum.angle == 120"}],
                 "mark": {"type": "point", "shape": "M -0.95 -1 L 0.95 -1 C 1.419 -1 1.8 -0.619 1.8 -0.15 L 1.8 0.15 C 1.8 0.619 1.419 1 0.95 1 L -0.95 1 C -1.419 1 -1.8 0.619 -1.8 0.15 L -1.8 -0.15 C -1.8 -0.619 -1.419 -1 -0.95 -1 Z", "size": 729, "filled": true, "fill": "#ffffff", "stroke": "#9a9a9a", "strokeWidth": 1.2, "opacity": 1},
                 "encoding": {"y": {"datum": 62.5, "type": "quantitative"}}},
                {"data": {"name": "panels"}, "transform": [{"filter": "datum.angle == 120"}],
                 "mark": {"type": "text", "font": "Liberation Serif", "fontSize": 14, "color": "#333", "baseline": "middle"},
                 "encoding": {"y": {"datum": 62.5, "type": "quantitative"}, "text": {"field": "label"}}}
              ]
            }
          ]
        }
      ]
    },
    {
      "spacing": 0,
      "bounds": "flush",
      "hconcat": [
        {
          "width": 174, "height": 222,
          "layer": [
            {"data": {"name": "stripes"}, "mark": {"type": "rect", "fill": "#ebebd2", "opacity": 0.4},
             "encoding": {"x": {"field": "cls", "type": "nominal", "title": null, "scale": {"domain": ["HW","NN","LN","CU","SP","LZ"], "paddingInner": 0, "paddingOuter": 0}},
                          "y": {"datum": 0, "type": "quantitative", "scale": {"domain": [0, 100]}}, "y2": {"datum": 100}}},
            {"data": {"name": "acc"}, "transform": [{"filter": "datum.angle == 160"}],
             "mark": {"type": "circle", "size": 50, "fillOpacity": 0.78, "strokeWidth": 0.7, "strokeOpacity": 0.85},
             "encoding": {
               "x": {"field": "cls", "type": "nominal", "title": null},
               "xOffset": {"field": "run", "type": "nominal", "scale": {"type": "point", "padding": 0, "domain": [3,7,1,9,5,2,8,4,10,6], "range": [8, 21]}},
               "y": {"field": "acc", "type": "quantitative", "axis": {"values": [0, 25, 50, 75, 100], "title": "mean classification accuracy [%]"}},
               "color": {"field": "cls", "type": "nominal", "scale": {"domain": ["HW","NN","LN","CU","SP","LZ"], "range": ["#e8171d","#b8622c","#2b7bba","#3aaa46","#9b4fb0","#f7941d"]}, "legend": null},
               "stroke": {"field": "cls", "type": "nominal", "scale": {"domain": ["HW","NN","LN","CU","SP","LZ"], "range": ["#9a0e12","#6e3818","#174a73","#1f6a28","#5e2e6c","#a45f0e"]}, "legend": null}
             }},
            {"data": {"name": "acc"}, "transform": [{"filter": "datum.angle == 160"}],
             "mark": {"type": "tick", "size": 27, "thickness": 1.3, "color": "#222", "opacity": 1},
             "encoding": {"x": {"field": "cls", "type": "nominal", "title": null}, "y": {"field": "acc", "aggregate": "mean", "type": "quantitative"}}},
            {"data": {"name": "panels"}, "transform": [{"filter": "datum.angle == 160"}],
             "mark": {"type": "point", "shape": "M -0.95 -1 L 0.95 -1 C 1.419 -1 1.8 -0.619 1.8 -0.15 L 1.8 0.15 C 1.8 0.619 1.419 1 0.95 1 L -0.95 1 C -1.419 1 -1.8 0.619 -1.8 0.15 L -1.8 -0.15 C -1.8 -0.619 -1.419 -1 -0.95 -1 Z", "size": 729, "filled": true, "fill": "#ffffff", "stroke": "#9a9a9a", "strokeWidth": 1.2, "opacity": 1},
             "encoding": {"y": {"datum": 62.5, "type": "quantitative"}}},
            {"data": {"name": "panels"}, "transform": [{"filter": "datum.angle == 160"}],
             "mark": {"type": "text", "font": "Liberation Serif", "fontSize": 14, "color": "#333", "baseline": "middle"},
             "encoding": {"y": {"datum": 62.5, "type": "quantitative"}, "text": {"field": "label"}}}
          ]
        },
        {
          "width": 174, "height": 222,
          "layer": [
            {"data": {"name": "stripes"}, "mark": {"type": "rect", "fill": "#ebebd2", "opacity": 0.4},
             "encoding": {"x": {"field": "cls", "type": "nominal", "title": null, "scale": {"domain": ["HW","NN","LN","CU","SP","LZ"], "paddingInner": 0, "paddingOuter": 0}},
                          "y": {"datum": 0, "type": "quantitative", "scale": {"domain": [0, 100]}}, "y2": {"datum": 100}}},
            {"data": {"name": "acc"}, "transform": [{"filter": "datum.angle == 200"}],
             "mark": {"type": "circle", "size": 50, "fillOpacity": 0.78, "strokeWidth": 0.7, "strokeOpacity": 0.85},
             "encoding": {
               "x": {"field": "cls", "type": "nominal", "title": null},
               "xOffset": {"field": "run", "type": "nominal", "scale": {"type": "point", "padding": 0, "domain": [3,7,1,9,5,2,8,4,10,6], "range": [8, 21]}},
               "y": {"field": "acc", "type": "quantitative", "axis": {"values": [25, 50, 75], "labels": false, "title": null}},
               "color": {"field": "cls", "type": "nominal", "scale": {"domain": ["HW","NN","LN","CU","SP","LZ"], "range": ["#e8171d","#b8622c","#2b7bba","#3aaa46","#9b4fb0","#f7941d"]}, "legend": null},
               "stroke": {"field": "cls", "type": "nominal", "scale": {"domain": ["HW","NN","LN","CU","SP","LZ"], "range": ["#9a0e12","#6e3818","#174a73","#1f6a28","#5e2e6c","#a45f0e"]}, "legend": null}
             }},
            {"data": {"name": "acc"}, "transform": [{"filter": "datum.angle == 200"}],
             "mark": {"type": "tick", "size": 27, "thickness": 1.3, "color": "#222", "opacity": 1},
             "encoding": {"x": {"field": "cls", "type": "nominal", "title": null}, "y": {"field": "acc", "aggregate": "mean", "type": "quantitative"}}},
            {"data": {"name": "panels"}, "transform": [{"filter": "datum.angle == 200"}],
             "mark": {"type": "point", "shape": "M -0.95 -1 L 0.95 -1 C 1.419 -1 1.8 -0.619 1.8 -0.15 L 1.8 0.15 C 1.8 0.619 1.419 1 0.95 1 L -0.95 1 C -1.419 1 -1.8 0.619 -1.8 0.15 L -1.8 -0.15 C -1.8 -0.619 -1.419 -1 -0.95 -1 Z", "size": 729, "filled": true, "fill": "#ffffff", "stroke": "#9a9a9a", "strokeWidth": 1.2, "opacity": 1},
             "encoding": {"y": {"datum": 62.5, "type": "quantitative"}}},
            {"data": {"name": "panels"}, "transform": [{"filter": "datum.angle == 200"}],
             "mark": {"type": "text", "font": "Liberation Serif", "fontSize": 14, "color": "#333", "baseline": "middle"},
             "encoding": {"y": {"datum": 62.5, "type": "quantitative"}, "text": {"field": "label"}}}
          ]
        },
        {
          "width": 174, "height": 222,
          "layer": [
            {"data": {"name": "stripes"}, "mark": {"type": "rect", "fill": "#ebebd2", "opacity": 0.4},
             "encoding": {"x": {"field": "cls", "type": "nominal", "title": null, "scale": {"domain": ["HW","NN","LN","CU","SP","LZ"], "paddingInner": 0, "paddingOuter": 0}},
                          "y": {"datum": 0, "type": "quantitative", "scale": {"domain": [0, 100]}}, "y2": {"datum": 100}}},
            {"data": {"name": "acc"}, "transform": [{"filter": "datum.angle == 240"}],
             "mark": {"type": "circle", "size": 50, "fillOpacity": 0.78, "strokeWidth": 0.7, "strokeOpacity": 0.85},
             "encoding": {
               "x": {"field": "cls", "type": "nominal", "title": null},
               "xOffset": {"field": "run", "type": "nominal", "scale": {"type": "point", "padding": 0, "domain": [3,7,1,9,5,2,8,4,10,6], "range": [8, 21]}},
               "y": {"field": "acc", "type": "quantitative", "axis": {"values": [25, 50, 75], "labels": false, "title": null}},
               "color": {"field": "cls", "type": "nominal", "scale": {"domain": ["HW","NN","LN","CU","SP","LZ"], "range": ["#e8171d","#b8622c","#2b7bba","#3aaa46","#9b4fb0","#f7941d"]}, "legend": null},
               "stroke": {"field": "cls", "type": "nominal", "scale": {"domain": ["HW","NN","LN","CU","SP","LZ"], "range": ["#9a0e12","#6e3818","#174a73","#1f6a28","#5e2e6c","#a45f0e"]}, "legend": null}
             }},
            {"data": {"name": "acc"}, "transform": [{"filter": "datum.angle == 240"}],
             "mark": {"type": "tick", "size": 27, "thickness": 1.3, "color": "#222", "opacity": 1},
             "encoding": {"x": {"field": "cls", "type": "nominal", "title": null}, "y": {"field": "acc", "aggregate": "mean", "type": "quantitative"}}},
            {"data": {"name": "panels"}, "transform": [{"filter": "datum.angle == 240"}],
             "mark": {"type": "point", "shape": "M -0.95 -1 L 0.95 -1 C 1.419 -1 1.8 -0.619 1.8 -0.15 L 1.8 0.15 C 1.8 0.619 1.419 1 0.95 1 L -0.95 1 C -1.419 1 -1.8 0.619 -1.8 0.15 L -1.8 -0.15 C -1.8 -0.619 -1.419 -1 -0.95 -1 Z", "size": 729, "filled": true, "fill": "#ffffff", "stroke": "#9a9a9a", "strokeWidth": 1.2, "opacity": 1},
             "encoding": {"y": {"datum": 62.5, "type": "quantitative"}}},
            {"data": {"name": "panels"}, "transform": [{"filter": "datum.angle == 240"}],
             "mark": {"type": "text", "font": "Liberation Serif", "fontSize": 14, "color": "#333", "baseline": "middle"},
             "encoding": {"y": {"datum": 62.5, "type": "quantitative"}, "text": {"field": "label"}}}
          ]
        },
        {
          "width": 174, "height": 222,
          "layer": [
            {"data": {"name": "stripes"}, "mark": {"type": "rect", "fill": "#ebebd2", "opacity": 0.4},
             "encoding": {"x": {"field": "cls", "type": "nominal", "title": null, "scale": {"domain": ["HW","NN","LN","CU","SP","LZ"], "paddingInner": 0, "paddingOuter": 0}},
                          "y": {"datum": 0, "type": "quantitative", "scale": {"domain": [0, 100]}}, "y2": {"datum": 100}}},
            {"data": {"name": "acc"}, "transform": [{"filter": "datum.angle == 280"}],
             "mark": {"type": "circle", "size": 50, "fillOpacity": 0.78, "strokeWidth": 0.7, "strokeOpacity": 0.85},
             "encoding": {
               "x": {"field": "cls", "type": "nominal", "title": null},
               "xOffset": {"field": "run", "type": "nominal", "scale": {"type": "point", "padding": 0, "domain": [3,7,1,9,5,2,8,4,10,6], "range": [8, 21]}},
               "y": {"field": "acc", "type": "quantitative", "axis": {"values": [25, 50, 75], "labels": false, "title": null}},
               "color": {"field": "cls", "type": "nominal", "scale": {"domain": ["HW","NN","LN","CU","SP","LZ"], "range": ["#e8171d","#b8622c","#2b7bba","#3aaa46","#9b4fb0","#f7941d"]}, "legend": null},
               "stroke": {"field": "cls", "type": "nominal", "scale": {"domain": ["HW","NN","LN","CU","SP","LZ"], "range": ["#9a0e12","#6e3818","#174a73","#1f6a28","#5e2e6c","#a45f0e"]}, "legend": null}
             }},
            {"data": {"name": "acc"}, "transform": [{"filter": "datum.angle == 280"}],
             "mark": {"type": "tick", "size": 27, "thickness": 1.3, "color": "#222", "opacity": 1},
             "encoding": {"x": {"field": "cls", "type": "nominal", "title": null}, "y": {"field": "acc", "aggregate": "mean", "type": "quantitative"}}},
            {"data": {"name": "panels"}, "transform": [{"filter": "datum.angle == 280"}],
             "mark": {"type": "point", "shape": "M -0.95 -1 L 0.95 -1 C 1.419 -1 1.8 -0.619 1.8 -0.15 L 1.8 0.15 C 1.8 0.619 1.419 1 0.95 1 L -0.95 1 C -1.419 1 -1.8 0.619 -1.8 0.15 L -1.8 -0.15 C -1.8 -0.619 -1.419 -1 -0.95 -1 Z", "size": 729, "filled": true, "fill": "#ffffff", "stroke": "#9a9a9a", "strokeWidth": 1.2, "opacity": 1},
             "encoding": {"y": {"datum": 62.5, "type": "quantitative"}}},
            {"data": {"name": "panels"}, "transform": [{"filter": "datum.angle == 280"}],
             "mark": {"type": "text", "font": "Liberation Serif", "fontSize": 14, "color": "#333", "baseline": "middle"},
             "encoding": {"y": {"datum": 62.5, "type": "quantitative"}, "text": {"field": "label"}}}
          ]
        },
        {
          "width": 174, "height": 222,
          "layer": [
            {"data": {"name": "stripes"}, "mark": {"type": "rect", "fill": "#ebebd2", "opacity": 0.4},
             "encoding": {"x": {"field": "cls", "type": "nominal", "title": null, "scale": {"domain": ["HW","NN","LN","CU","SP","LZ"], "paddingInner": 0, "paddingOuter": 0}},
                          "y": {"datum": 0, "type": "quantitative", "scale": {"domain": [0, 100]}}, "y2": {"datum": 100}}},
            {"data": {"name": "acc"}, "transform": [{"filter": "datum.angle == 320"}],
             "mark": {"type": "circle", "size": 50, "fillOpacity": 0.78, "strokeWidth": 0.7, "strokeOpacity": 0.85},
             "encoding": {
               "x": {"field": "cls", "type": "nominal", "title": null},
               "xOffset": {"field": "run", "type": "nominal", "scale": {"type": "point", "padding": 0, "domain": [3,7,1,9,5,2,8,4,10,6], "range": [8, 21]}},
               "y": {"field": "acc", "type": "quantitative", "axis": {"values": [25, 50, 75], "labels": false, "title": null}},
               "color": {"field": "cls", "type": "nominal", "scale": {"domain": ["HW","NN","LN","CU","SP","LZ"], "range": ["#e8171d","#b8622c","#2b7bba","#3aaa46","#9b4fb0","#f7941d"]}, "legend": null},
               "stroke": {"field": "cls", "type": "nominal", "scale": {"domain": ["HW","NN","LN","CU","SP","LZ"], "range": ["#9a0e12","#6e3818","#174a73","#1f6a28","#5e2e6c","#a45f0e"]}, "legend": null}
             }},
            {"data": {"name": "acc"}, "transform": [{"filter": "datum.angle == 320"}],
             "mark": {"type": "tick", "size": 27, "thickness": 1.3, "color": "#222", "opacity": 1},
             "encoding": {"x": {"field": "cls", "type": "nominal", "title": null}, "y": {"field": "acc", "aggregate": "mean", "type": "quantitative"}}},
            {"data": {"name": "panels"}, "transform": [{"filter": "datum.angle == 320"}],
             "mark": {"type": "point", "shape": "M -0.95 -1 L 0.95 -1 C 1.419 -1 1.8 -0.619 1.8 -0.15 L 1.8 0.15 C 1.8 0.619 1.419 1 0.95 1 L -0.95 1 C -1.419 1 -1.8 0.619 -1.8 0.15 L -1.8 -0.15 C -1.8 -0.619 -1.419 -1 -0.95 -1 Z", "size": 729, "filled": true, "fill": "#ffffff", "stroke": "#9a9a9a", "strokeWidth": 1.2, "opacity": 1},
             "encoding": {"y": {"datum": 62.5, "type": "quantitative"}}},
            {"data": {"name": "panels"}, "transform": [{"filter": "datum.angle == 320"}],
             "mark": {"type": "text", "font": "Liberation Serif", "fontSize": 14, "color": "#333", "baseline": "middle"},
             "encoding": {"y": {"datum": 62.5, "type": "quantitative"}, "text": {"field": "label"}}}
          ]
        }
      ]
    }
  ]
}
